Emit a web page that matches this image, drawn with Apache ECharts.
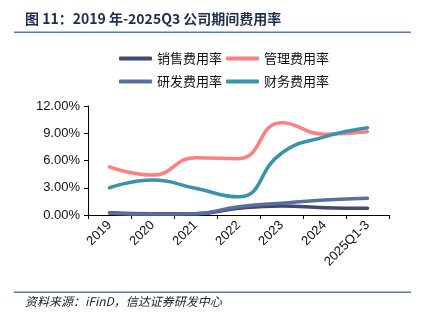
<!DOCTYPE html>
<html><head><meta charset="utf-8">
<script src="https://cdn.jsdelivr.net/npm/echarts@6/dist/echarts.min.js"></script>
<style>html,body{margin:0;padding:0;background:#fff}#c{width:425px;height:321px}</style>
</head><body><div id="c"></div>
<script>
const categories = ['2019','2020','2021','2022','2023','2024','2025Q1-3'];
const salesRate = [0.25, 0.15, 0.15, 0.75, 1.0, 0.8, 0.73];
const mgmtRate = [5.3, 4.4, 6.3, 6.2, 10.16, 8.9, 9.17];
const rdRate = [0.2, 0.1, 0.15, 0.9, 1.3, 1.65, 1.85];
const finRate = [3.0, 3.85, 2.94, 2.0, 6.8, 8.6, 9.6];
const yTicks = [0, 3, 6, 9, 12];

const chart = echarts.init(document.getElementById('c'));
const colors = {s:'#3F4A6E', m:'#FF7F7F', r:'#5A6EA3', f:'#3A92AD'};
function ser(name, data, color){
  return {name, type:'line', data, smooth:0.5, symbol:'none',
    lineStyle:{width:3.5, color, cap:'round'}, itemStyle:{color}};
}
const legendBase = {itemWidth:33, itemHeight:4, itemGap:4, icon:'roundRect',
  textStyle:{fontSize:13, color:'#111', fontFamily:'Noto Sans CJK SC'}};
chart.setOption({
  animation:false,
  backgroundColor:'#fff',
  legend:[
    Object.assign({data:['销售费用率','管理费用率'], left:114, top:47}, legendBase),
    Object.assign({data:['研发费用率','财务费用率'], left:114, top:70}, legendBase)
  ],
  grid:{left:88, right:36, top:106, bottom:106, containLabel:false},
  xAxis:{type:'category', data:categories, boundaryGap:true,
    axisLine:{lineStyle:{color:'#000', width:1}},
    axisTick:{show:true, alignWithLabel:false, inside:false, length:4, lineStyle:{color:'#000'}},
    axisLabel:{rotate:45, fontSize:13, color:'#111', fontFamily:'Liberation Sans', margin:8}},
  yAxis:{type:'value', min:0, max:12, interval:3,
    axisLine:{show:true, lineStyle:{color:'#000', width:1}},
    axisTick:{show:true, length:4, lineStyle:{color:'#000'}},
    splitLine:{show:false},
    axisLabel:{fontSize:13, color:'#111', fontFamily:'Liberation Sans', margin:8,
      formatter:v => yTicks.includes(v) ? v.toFixed(2)+'%' : ''}},
  series:[ser('销售费用率', salesRate, colors.s), ser('管理费用率', mgmtRate, colors.m),
          ser('研发费用率', rdRate, colors.r), ser('财务费用率', finRate, colors.f)],
  graphic:[
    {type:'text', left:25, top:12, style:{text:'图 11：2019 年-2025Q3 公司期间费用率', fontSize:14, fontWeight:'bold', fill:'#1F2D4E', fontFamily:'Noto Sans CJK SC'}},
    {type:'rect', shape:{x:14, y:31.5, width:397, height:1.5}, style:{fill:'#5B7BAF'}},
    {type:'rect', shape:{x:14, y:291.5, width:397, height:1.5}, style:{fill:'#5B7BAF'}},
    {type:'text', left:25, top:295, style:{text:'资料来源：iFinD，信达证券研发中心', fontSize:12, fontStyle:'italic', fill:'#222', fontFamily:'Noto Sans CJK SC'}}
  ]
});
</script></body></html>
